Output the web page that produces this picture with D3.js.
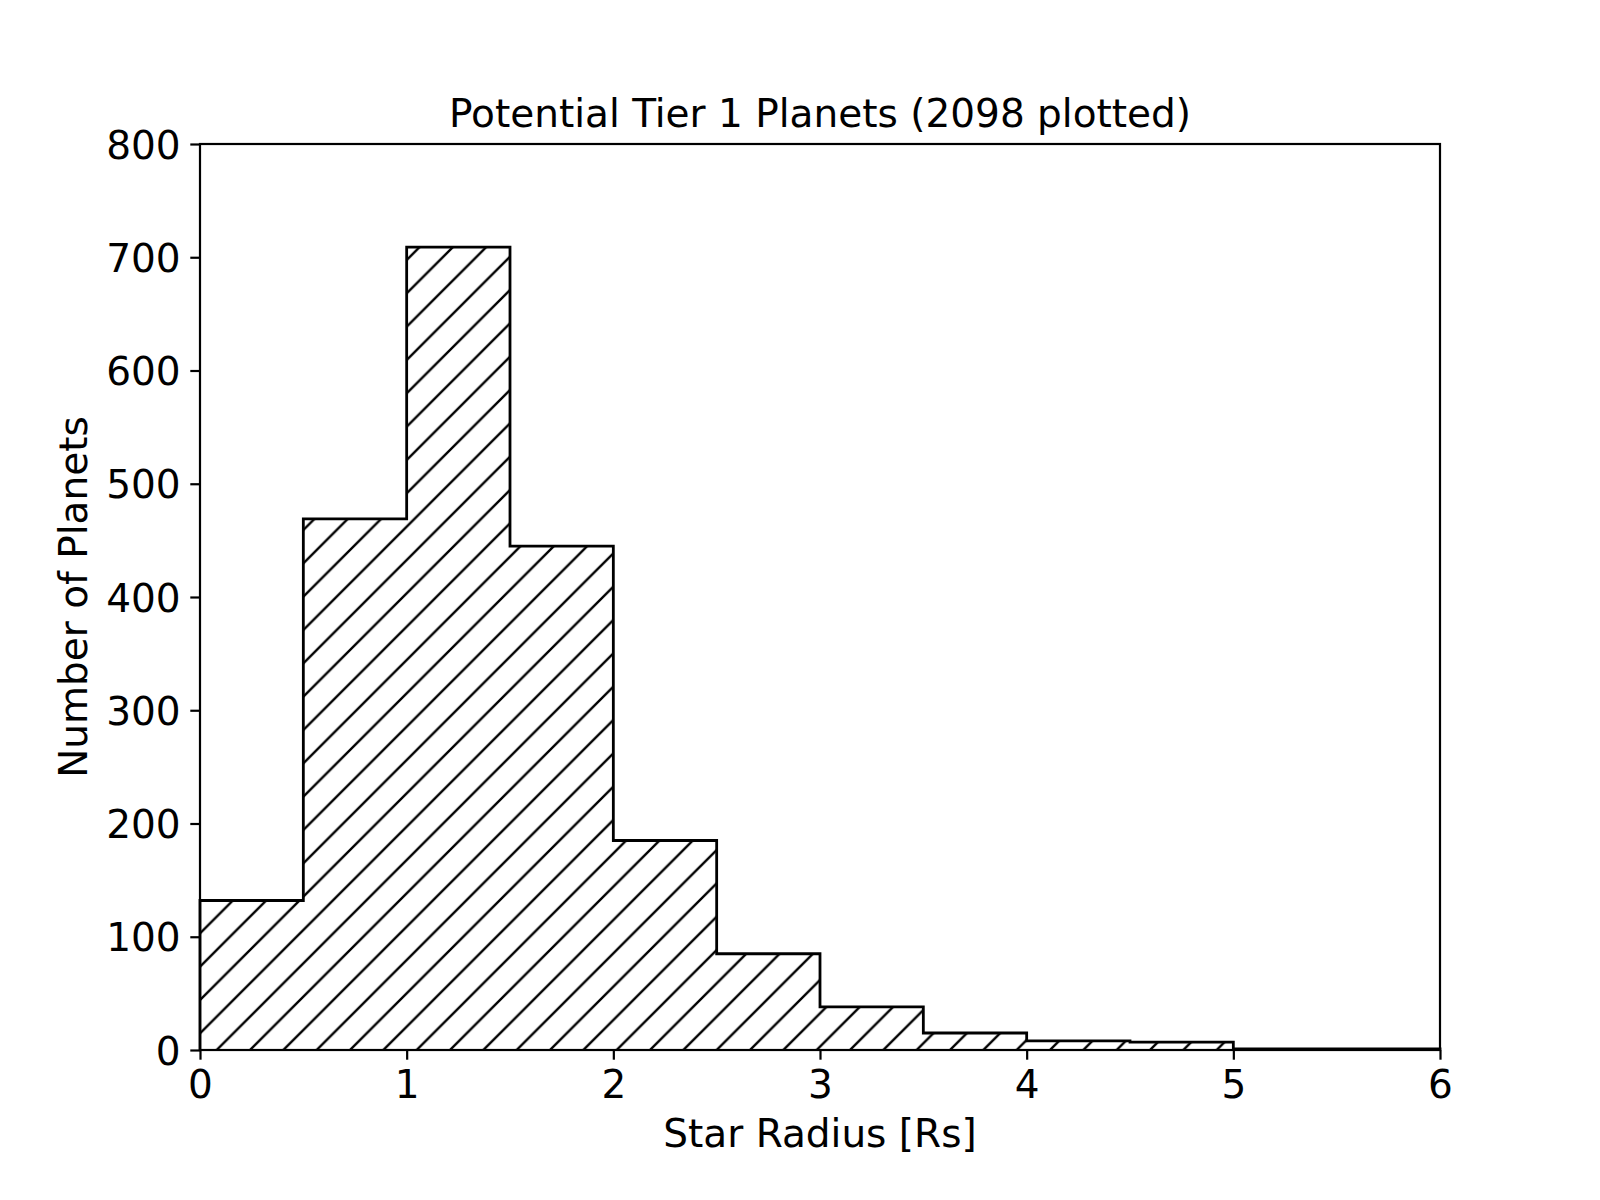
<!DOCTYPE html>
<html>
<head>
<meta charset="utf-8">
<script src="https://cdn.jsdelivr.net/npm/d3@7"></script>
<style>
  body { margin: 0; background: #fff; }
  text { font-family: "DejaVu Sans", sans-serif; fill: #000; }
</style>
</head>
<body>
<div id="chart"></div>
<script>
// histogram bins (Star Radius, Rs) and counts
const binEdges = [0, 0.5, 1, 1.5, 2, 2.5, 3, 3.5, 4, 4.5, 5, 5.5, 6];
const counts = [132, 469, 709, 445, 185, 85, 38, 15, 8, 7, 1, 1];
const xTicks = [0, 1, 2, 3, 4, 5, 6];
const yTicks = [0, 100, 200, 300, 400, 500, 600, 700, 800];

const W = 1600, H = 1200;
const plot = {left: 200, right: 1440, top: 144, bottom: 1050};
const tickFont = 39;

const svg = d3.select("#chart").append("svg")
    .attr("width", W).attr("height", H);

// hatch '/' : spacing 33.33px, anchored to page origin like matplotlib
const hs = 100 / 3;
const pat = svg.append("defs").append("pattern")
    .attr("id", "hatch")
    .attr("patternUnits", "userSpaceOnUse")
    .attr("width", hs).attr("height", hs);
pat.append("path")
    .attr("d", `M0,${hs} L${hs},0 M-2,2 L2,-2 M${hs - 2},${hs + 2} L${hs + 2},${hs - 2}`)
    .attr("stroke", "#000").attr("stroke-width", 2.4).attr("fill", "none");

var x = d3.scaleLinear().domain([0, 6]).range([plot.left, plot.right]);
var y = d3.scaleLinear().domain([0, 800]).range([plot.bottom, plot.top]);

// step points
const pts = counts.map((c, i) => ({x: binEdges[i], y: c}));
pts.push({x: binEdges[binEdges.length - 1], y: counts[counts.length - 1]});

svg.append("path")
    .datum(pts)
    .attr("fill", "url(#hatch)")
    .attr("d", d3.area()
        .curve(d3.curveStepAfter)
        .x(d => x(d.x))
        .y0(y(0))
        .y1(d => y(d.y)));

const outline = [{x: 0, y: 0}].concat(pts, [{x: 6, y: 0}]);
svg.append("path")
    .datum(outline)
    .attr("fill", "none")
    .attr("stroke", "#000")
    .attr("stroke-width", 2.8)
    .attr("stroke-linejoin", "miter")
    .attr("d", d3.line()
        .curve(d3.curveStepAfter)
        .x(d => x(d.x))
        .y(d => y(d.y)));

// axes
const xAxis = svg.append("g")
    .attr("transform", `translate(0,${plot.bottom})`)
    .call(d3.axisBottom(x).tickValues(xTicks).tickSize(9.7).tickPadding(9.7).tickFormat(d3.format("d")));
const yAxis = svg.append("g")
    .attr("transform", `translate(${plot.left},0)`)
    .call(d3.axisLeft(y).tickValues(yTicks).tickSize(9.7).tickPadding(9.7).tickFormat(d3.format("d")));

[xAxis, yAxis].forEach(g => {
    g.select(".domain").remove();
    g.selectAll("line").attr("stroke", "#000").attr("stroke-width", 2.2);
    g.selectAll("text")
        .style("font-family", '"DejaVu Sans", sans-serif')
        .style("font-size", tickFont + "px")
        .attr("fill", "#000");
});
xAxis.selectAll("text").attr("dy", "0.73em");
yAxis.selectAll("text").attr("dy", "0.36em");

// spines
svg.append("rect")
    .attr("x", plot.left).attr("y", plot.top)
    .attr("width", plot.right - plot.left)
    .attr("height", plot.bottom - plot.top)
    .attr("fill", "none")
    .attr("stroke", "#000")
    .attr("stroke-width", 2.2);

// title and labels
svg.append("text")
    .attr("x", (plot.left + plot.right) / 2)
    .attr("y", 127)
    .style("text-anchor", "middle")
    .style("font-size", "39px")
    .text("Potential Tier 1 Planets (2098 plotted)");

svg.append("text")
    .attr("x", (plot.left + plot.right) / 2)
    .attr("y", 1147)
    .style("text-anchor", "middle")
    .style("font-size", "39px")
    .text("Star Radius [Rs]");

svg.append("text")
    .attr("transform", `translate(87,${(plot.top + plot.bottom) / 2})rotate(-90)`)
    .style("text-anchor", "middle")
    .style("font-size", "39px")
    .text("Number of Planets");
</script>
</body>
</html>
